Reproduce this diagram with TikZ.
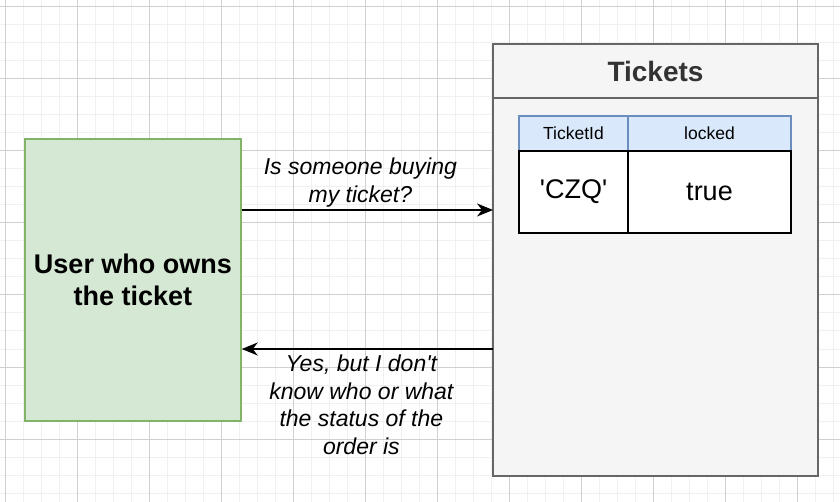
\documentclass[tikz,border=0pt]{standalone}
\usepackage{fontspec}
\setmainfont{Liberation Sans}[Ligatures=TeXOff]
\usetikzlibrary{arrows.meta, positioning}
\definecolor{gridminor}{RGB}{240,240,240}
\definecolor{gridmajor}{RGB}{208,208,208}
\definecolor{usergreen}{RGB}{213,232,212}
\definecolor{userborder}{RGB}{130,179,102}
\definecolor{panelgray}{RGB}{245,245,245}
\definecolor{panelborder}{RGB}{102,102,102}
\definecolor{titlegray}{RGB}{51,51,51}
\definecolor{headblue}{RGB}{218,232,252}
\definecolor{headborder}{RGB}{108,142,191}
\newcommand{\fs}[2]{\fontsize{#1}{#2}\selectfont}

\begin{document}
\begin{tikzpicture}[
  x=1pt, y=-1pt,
  userbox/.style={draw=userborder, fill=usergreen, line width=1.5pt, align=center,
    minimum width=216pt, minimum height=282pt, font=\fs{27}{32}\bfseries},
  panel/.style={draw=panelborder, fill=panelgray, line width=1.5pt,
    minimum width=325pt, outer sep=0pt},
  headcell/.style={draw=headborder, fill=headblue, line width=1.5pt,
    minimum height=35pt, outer sep=0pt, inner sep=0pt, font=\fs{17.5}{20}},
  cell/.style={draw=black, fill=white, line width=1.5pt,
    minimum height=82pt, outer sep=0pt, inner sep=0pt, font=\fs{27}{32}},
  arr/.style={-{Stealth[length=16pt, width=13pt, inset=5pt]}, line width=1.5pt},
  msg/.style={align=center, inner sep=0pt, font=\fs{23}{27.6}\itshape},
]
  \useasboundingbox (0,0) rectangle (840,502);
  \fill[white] (0,0) rectangle (840,502);
  \foreach \x in {5,23,...,833} \draw[gridminor, line width=1pt] (\x,0) -- (\x,502);
  \foreach \y in {7,25,...,493} \draw[gridminor, line width=1pt] (0,\y) -- (840,\y);
  \foreach \x in {5,77,...,797} \draw[gridmajor, line width=1pt] (\x,0) -- (\x,502);
  \foreach \y in {7,79,...,439} \draw[gridmajor, line width=1pt] (0,\y) -- (840,\y);

  \node[userbox] (user) at (133,280) {User who owns\\the ticket};
  \node[panel, minimum height=432pt] (tickets) at (655.5,260) {};
  \node[panel, minimum height=54pt, anchor=north, text=titlegray,
    font=\fs{28}{32}\bfseries] (title) at (tickets.north) {Tickets};

  \node[headcell, minimum width=109pt] (idhead) at (573.5,133.5) {TicketId};
  \node[headcell, minimum width=163pt, right=0pt of idhead] (lockhead) {locked};
  \node[cell, minimum width=109pt, below=0pt of idhead] (idval) {'CZQ'};
  \node[cell, minimum width=163pt, below=0pt of lockhead] (lockval) {true};

  \draw[arr] ([yshift=70pt]user.east) -- ([yshift=70pt]user.east -| tickets.west)
    node[msg, midway, above=2pt, xshift=-7pt] (ask) {Is someone buying\\my ticket?};
  \draw[arr] ([yshift=-69pt]user.east -| tickets.west) -- ([yshift=-69pt]user.east)
    node[msg, midway, below=5pt, xshift=-6pt] (reply)
    {Yes, but I don't\\know who or what\\the status of the\\order is};
\end{tikzpicture}
\end{document}
